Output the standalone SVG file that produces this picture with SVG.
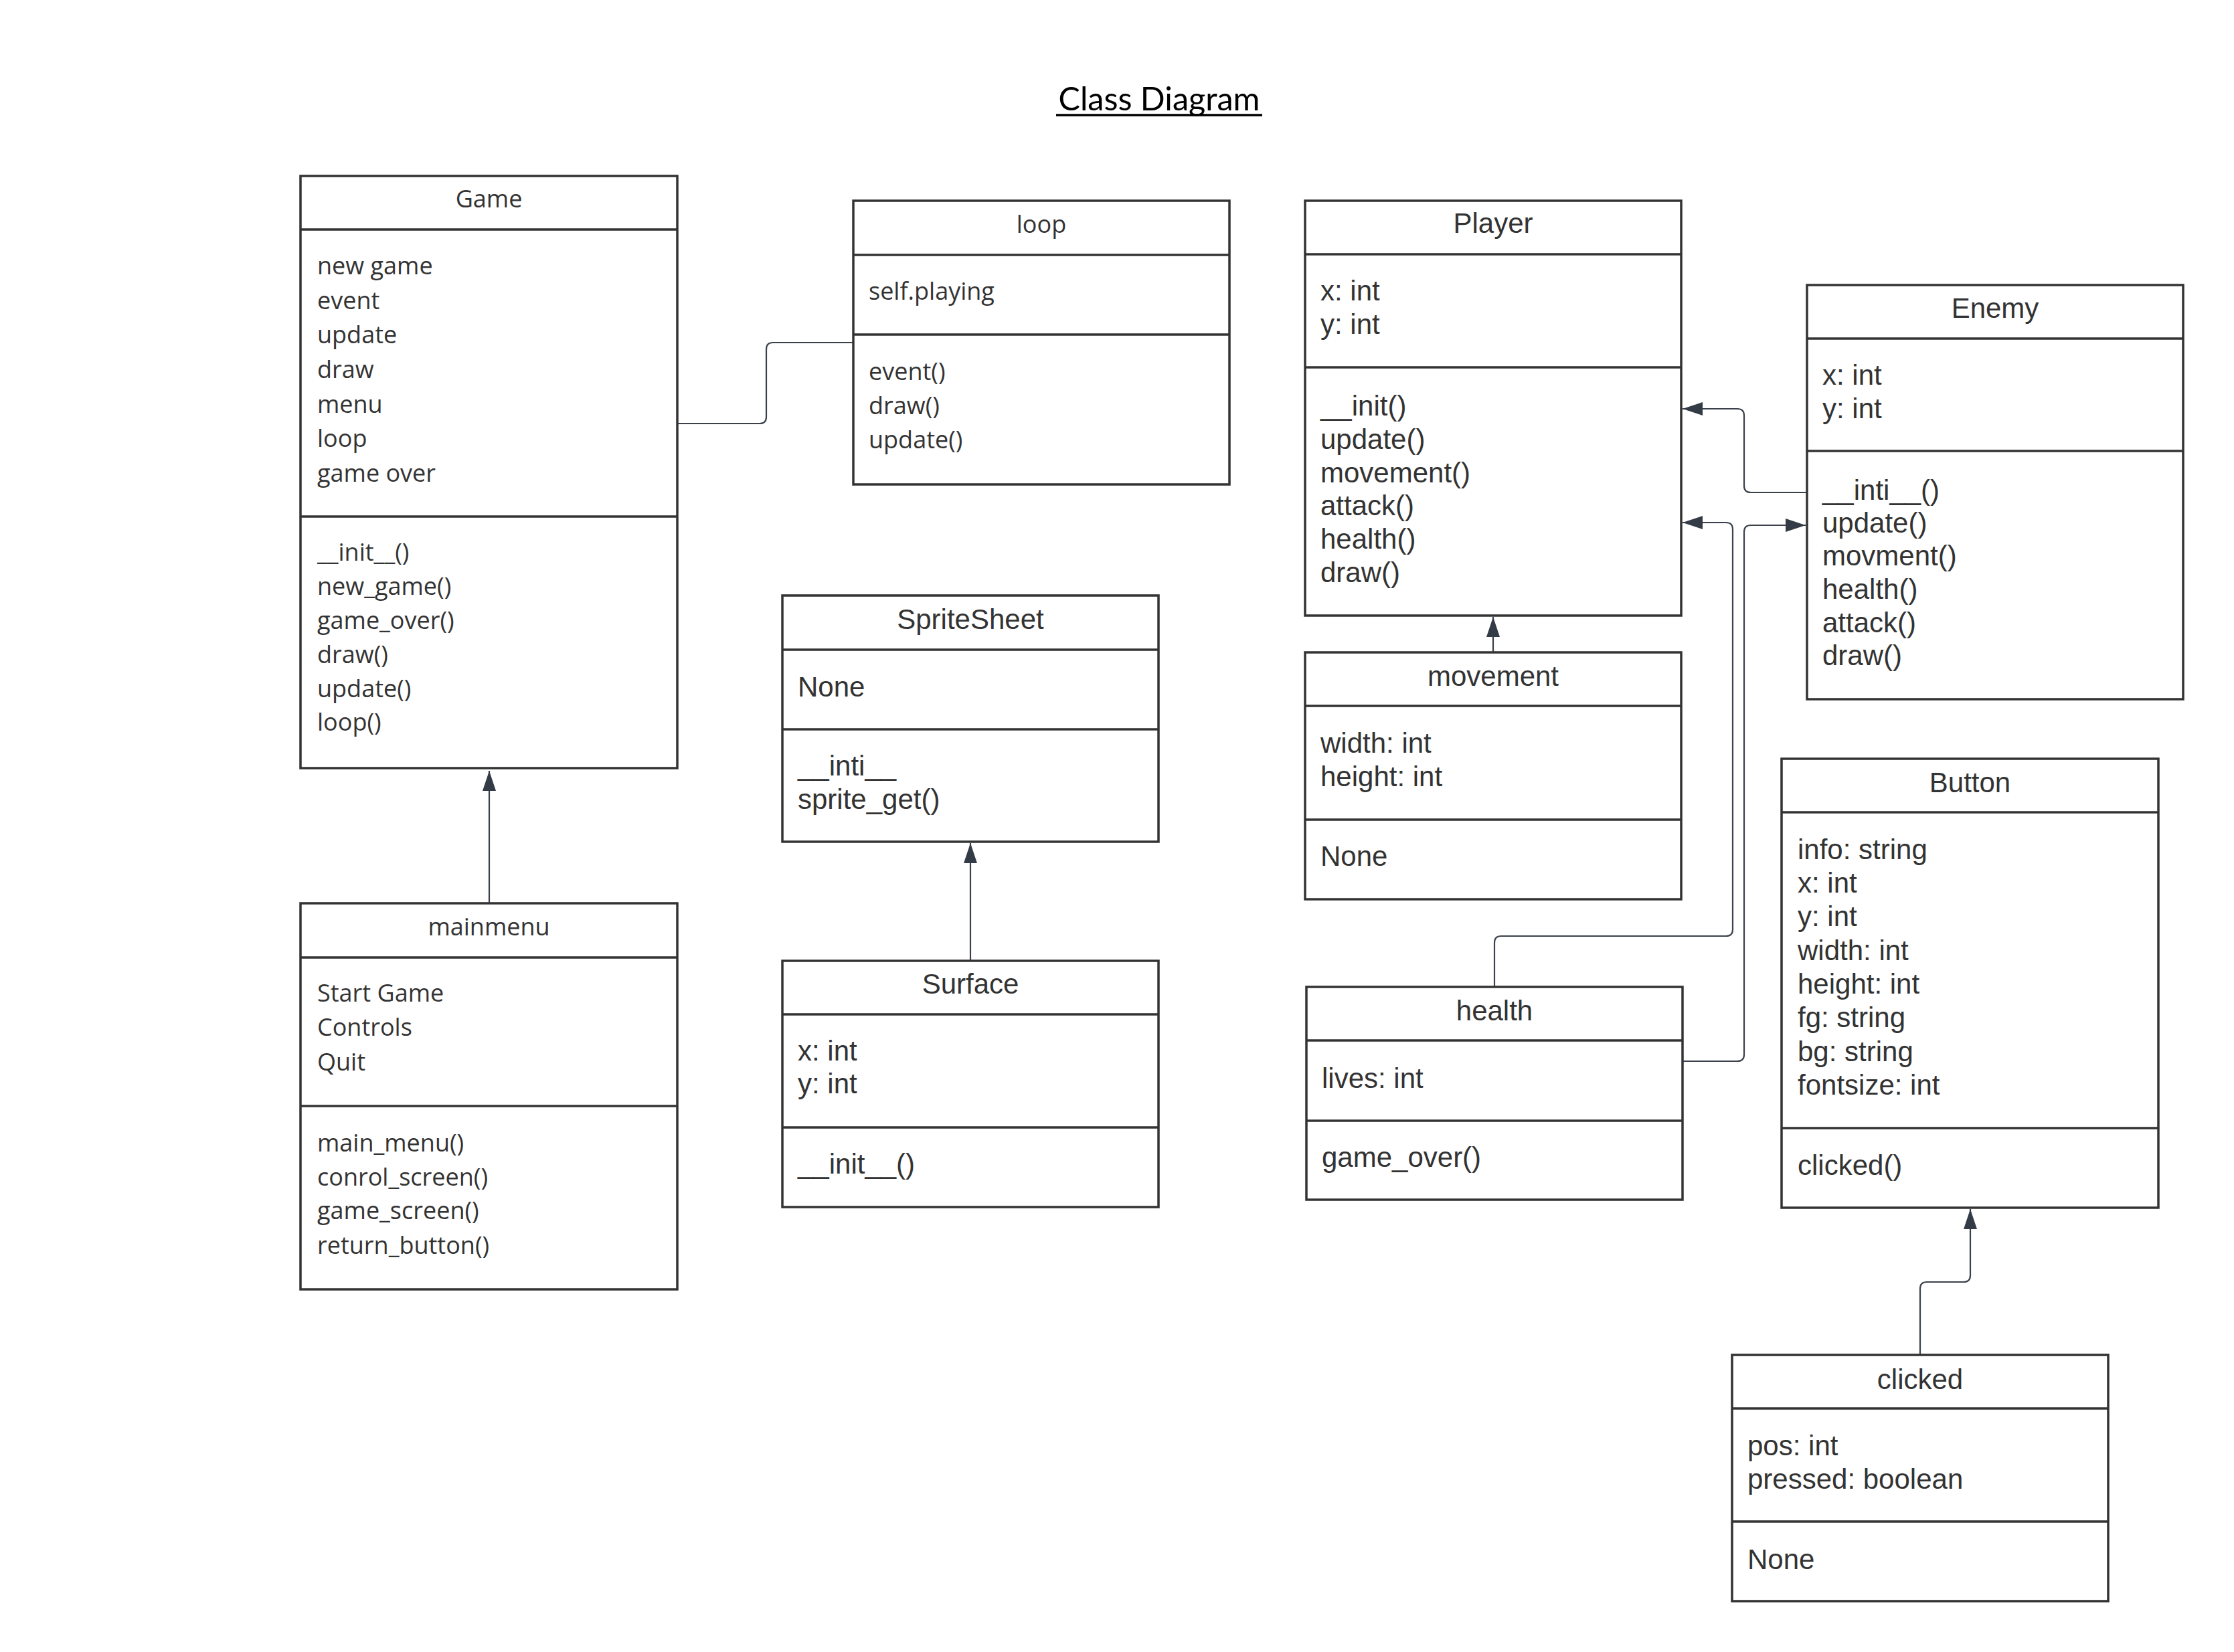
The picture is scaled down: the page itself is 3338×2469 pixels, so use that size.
<svg xmlns="http://www.w3.org/2000/svg" width="3338" height="2469" viewBox="0 0 3338 2469">
<style>
.box{fill:#ffffff;stroke:#333333;stroke-width:3.5}
.div{stroke:#333333;stroke-width:3.5;fill:none}
.os{font-family:"Open Sans","Liberation Sans",sans-serif;font-size:36px;fill:#333333}
.ls{font-family:"Liberation Sans",Arial,sans-serif;font-size:42px;fill:#333333}
.c{text-anchor:middle}
.conn{fill:none;stroke:#3a414b;stroke-width:2.2}
</style>
<defs>
<marker id="arr" markerUnits="userSpaceOnUse" markerWidth="32" markerHeight="22" refX="30" refY="10" orient="auto">
<path d="M0,0 L30,10 L0,20 Z" fill="#333b46"/>
</marker>
</defs>
<rect width="3338" height="2469" fill="#ffffff"/>
<g id="title">
<text x="1732" y="165" font-family="Lato,'Open Sans',sans-serif" font-size="48.5" fill="#000000" text-anchor="middle">Class Diagram</text>
<line x1="1578" y1="172" x2="1886" y2="172" stroke="#000000" stroke-width="3.5"/>
</g>
<g id="connectors">
<path class="conn" d="M1012,633 H1135 Q1145,633 1145,623 V522 Q1145,512 1155,512 H1275"/>
<path class="conn" d="M731,1350 V1152" marker-end="url(#arr)"/>
<path class="conn" d="M1450,1436 V1260" marker-end="url(#arr)"/>
<path class="conn" d="M2231,975 V922" marker-end="url(#arr)"/>
<path class="conn" d="M2700,736 H2616 Q2606,736 2606,726 V621 Q2606,611 2596,611 H2514" marker-end="url(#arr)"/>
<path class="conn" d="M2233,1475 V1409 Q2233,1399 2243,1399 H2579 Q2589,1399 2589,1389 V791 Q2589,781 2579,781 H2514" marker-end="url(#arr)"/>
<path class="conn" d="M2514,1586 H2596 Q2606,1586 2606,1576 V795 Q2606,785 2616,785 H2698" marker-end="url(#arr)"/>
<path class="conn" d="M2869,2025 V1926 Q2869,1916 2879,1916 H2934 Q2944,1916 2944,1906 V1807" marker-end="url(#arr)"/>
</g>
<g id="game">
<rect class="box" x="449" y="263" width="563" height="885"/>
<line class="div" x1="449" y1="343" x2="1012" y2="343"/>
<line class="div" x1="449" y1="772" x2="1012" y2="772"/>
<text class="os c" x="730.5" y="310">Game</text>
<text class="os" x="474" y="410">new game</text>
<text class="os" x="474" y="462">event</text>
<text class="os" x="474" y="513">update</text>
<text class="os" x="474" y="565">draw</text>
<text class="os" x="474" y="617">menu</text>
<text class="os" x="474" y="668">loop</text>
<text class="os" x="474" y="720">game over</text>
<text class="os" x="474" y="838">__init__()</text>
<text class="os" x="474" y="889">new_game()</text>
<text class="os" x="474" y="940">game_over()</text>
<text class="os" x="474" y="991">draw()</text>
<text class="os" x="474" y="1042">update()</text>
<text class="os" x="474" y="1092">loop()</text>
</g>
<g id="loop">
<rect class="box" x="1275" y="300" width="562" height="424"/>
<line class="div" x1="1275" y1="381" x2="1837" y2="381"/>
<line class="div" x1="1275" y1="500" x2="1837" y2="500"/>
<text class="os c" x="1556" y="348">loop</text>
<text class="os" x="1298" y="448">self.playing</text>
<text class="os" x="1298" y="568">event()</text>
<text class="os" x="1298" y="619">draw()</text>
<text class="os" x="1298" y="670">update()</text>
</g>
<g id="player">
<rect class="box" x="1950" y="300" width="562" height="620"/>
<line class="div" x1="1950" y1="380" x2="2512" y2="380"/>
<line class="div" x1="1950" y1="549" x2="2512" y2="549"/>
<text class="ls c" x="2231" y="348">Player</text>
<text class="ls" x="1973" y="449">x: int</text>
<text class="ls" x="1973" y="499">y: int</text>
<text class="ls" x="1973" y="621">__init()</text>
<text class="ls" x="1973" y="671">update()</text>
<text class="ls" x="1973" y="721">movement()</text>
<text class="ls" x="1973" y="770">attack()</text>
<text class="ls" x="1973" y="820">health()</text>
<text class="ls" x="1973" y="870">draw()</text>
</g>
<g id="enemy">
<rect class="box" x="2700" y="426" width="562" height="619"/>
<line class="div" x1="2700" y1="506" x2="3262" y2="506"/>
<line class="div" x1="2700" y1="674" x2="3262" y2="674"/>
<text class="ls c" x="2981" y="475">Enemy</text>
<text class="ls" x="2723" y="575">x: int</text>
<text class="ls" x="2723" y="625">y: int</text>
<text class="ls" x="2723" y="747">__inti__()</text>
<text class="ls" x="2723" y="796">update()</text>
<text class="ls" x="2723" y="845">movment()</text>
<text class="ls" x="2723" y="895">health()</text>
<text class="ls" x="2723" y="945">attack()</text>
<text class="ls" x="2723" y="994">draw()</text>
</g>
<g id="spritesheet">
<rect class="box" x="1169" y="890" width="562" height="368"/>
<line class="div" x1="1169" y1="971" x2="1731" y2="971"/>
<line class="div" x1="1169" y1="1090" x2="1731" y2="1090"/>
<text class="ls c" x="1450" y="940">SpriteSheet</text>
<text class="ls" x="1192" y="1041">None</text>
<text class="ls" x="1192" y="1159">__inti__</text>
<text class="ls" x="1192" y="1209">sprite_get()</text>
</g>
<g id="surface">
<rect class="box" x="1169" y="1436" width="562" height="368"/>
<line class="div" x1="1169" y1="1516" x2="1731" y2="1516"/>
<line class="div" x1="1169" y1="1685" x2="1731" y2="1685"/>
<text class="ls c" x="1450" y="1485">Surface</text>
<text class="ls" x="1192" y="1585">x: int</text>
<text class="ls" x="1192" y="1634">y: int</text>
<text class="ls" x="1192" y="1754">__init__()</text>
</g>
<g id="movement">
<rect class="box" x="1950" y="975" width="562" height="369"/>
<line class="div" x1="1950" y1="1055" x2="2512" y2="1055"/>
<line class="div" x1="1950" y1="1225" x2="2512" y2="1225"/>
<text class="ls c" x="2231" y="1025">movement</text>
<text class="ls" x="1973" y="1125">width: int</text>
<text class="ls" x="1973" y="1175">height: int</text>
<text class="ls" x="1973" y="1294">None</text>
</g>
<g id="health">
<rect class="box" x="1952" y="1475" width="562" height="318"/>
<line class="div" x1="1952" y1="1555" x2="2514" y2="1555"/>
<line class="div" x1="1952" y1="1675" x2="2514" y2="1675"/>
<text class="ls c" x="2233" y="1525">health</text>
<text class="ls" x="1975" y="1626">lives: int</text>
<text class="ls" x="1975" y="1744">game_over()</text>
</g>
<g id="mainmenu">
<rect class="box" x="449" y="1350" width="563" height="577"/>
<line class="div" x1="449" y1="1431" x2="1012" y2="1431"/>
<line class="div" x1="449" y1="1653" x2="1012" y2="1653"/>
<text class="os c" x="730.5" y="1398">mainmenu</text>
<text class="os" x="474" y="1497">Start Game</text>
<text class="os" x="474" y="1548">Controls</text>
<text class="os" x="474" y="1600">Quit</text>
<text class="os" x="474" y="1721">main_menu()</text>
<text class="os" x="474" y="1772">conrol_screen()</text>
<text class="os" x="474" y="1822">game_screen()</text>
<text class="os" x="474" y="1874">return_button()</text>
</g>
<g id="button">
<rect class="box" x="2662" y="1134" width="563" height="671"/>
<line class="div" x1="2662" y1="1214" x2="3225" y2="1214"/>
<line class="div" x1="2662" y1="1686" x2="3225" y2="1686"/>
<text class="ls c" x="2943.5" y="1184">Button</text>
<text class="ls" x="2686" y="1284">info: string</text>
<text class="ls" x="2686" y="1334">x: int</text>
<text class="ls" x="2686" y="1384">y: int</text>
<text class="ls" x="2686" y="1435">width: int</text>
<text class="ls" x="2686" y="1485">height: int</text>
<text class="ls" x="2686" y="1535">fg: string</text>
<text class="ls" x="2686" y="1586">bg: string</text>
<text class="ls" x="2686" y="1636">fontsize: int</text>
<text class="ls" x="2686" y="1756">clicked()</text>
</g>
<g id="clicked">
<rect class="box" x="2588" y="2025" width="562" height="368"/>
<line class="div" x1="2588" y1="2105" x2="3150" y2="2105"/>
<line class="div" x1="2588" y1="2274" x2="3150" y2="2274"/>
<text class="ls c" x="2869" y="2076">clicked</text>
<text class="ls" x="2611" y="2175">pos: int</text>
<text class="ls" x="2611" y="2225">pressed: boolean</text>
<text class="ls" x="2611" y="2345">None</text>
</g>
</svg>
